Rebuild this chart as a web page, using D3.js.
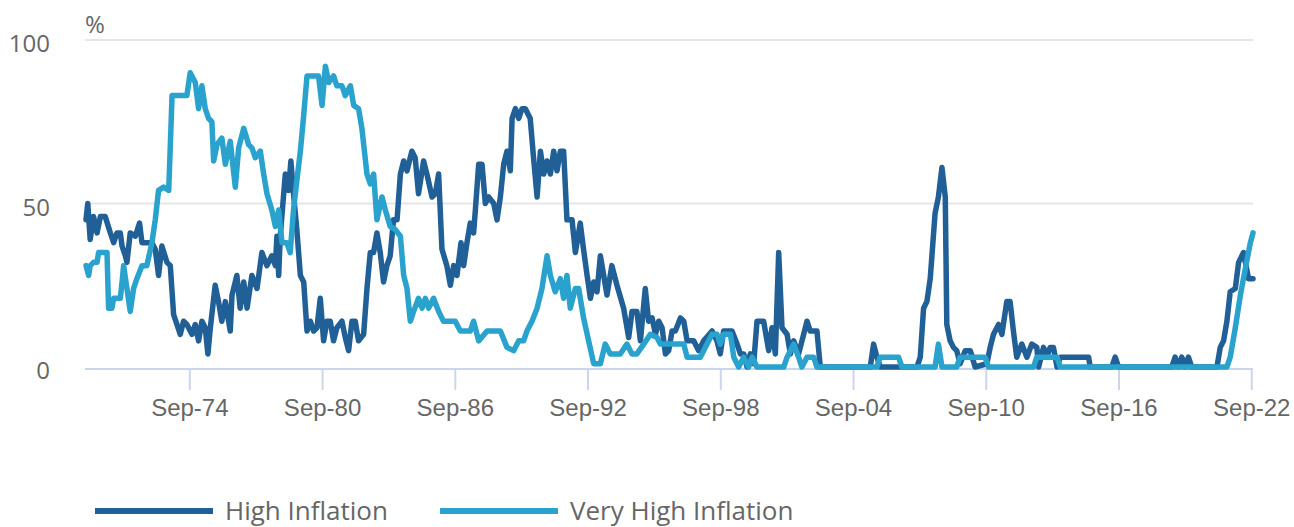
<!DOCTYPE html>
<html>
<head>
<meta charset="utf-8">
<script src="https://cdn.jsdelivr.net/npm/d3@7"></script>
<style>
    body { margin: 0; background: #fff; }
    svg { display: block; font-family: "Open Sans", sans-serif; }
    .tick-label { fill: #666; font-size: 24px; }
</style>
</head>
<body>
<div id="chart"></div>
<script>
// [decimal year, % of countries]
const highInflation = [
    [1970.00,45],[1970.08,50],[1970.19,39],[1970.34,46],[1970.50,41],[1970.65,46],[1970.87,46],[1971.10,41],
    [1971.25,38],[1971.40,41],[1971.55,41],[1971.63,37],[1971.78,34],[1971.85,32],[1972.00,41],[1972.23,40],
    [1972.42,44],[1972.53,38],[1972.98,38],[1973.13,36],[1973.28,28],[1973.43,37],[1973.66,32],[1973.81,31],
    [1973.96,16],[1974.11,13],[1974.26,10],[1974.41,14],[1974.56,13],[1974.79,10],[1974.94,13],[1975.09,8],
    [1975.24,14],[1975.39,12],[1975.51,4],[1975.62,12],[1975.84,25],[1975.99,20],[1976.14,14],[1976.30,20],
    [1976.52,11],[1976.60,22],[1976.82,28],[1976.97,18],[1977.13,26],[1977.28,18],[1977.50,28],[1977.73,24],
    [1977.95,35],[1978.18,31],[1978.40,34],[1978.56,31],[1978.63,40],[1978.71,28],[1978.78,40],[1979.01,59],
    [1979.16,54],[1979.26,63],[1979.38,53],[1979.53,42],[1979.69,28],[1979.84,26],[1979.99,11],[1980.14,14],
    [1980.29,11],[1980.44,12],[1980.59,21],[1980.74,8],[1980.89,14],[1981.04,14],[1981.19,8],[1981.34,12],
    [1981.57,14],[1981.72,9],[1981.87,5],[1982.02,14],[1982.17,14],[1982.32,8],[1982.55,10],[1982.70,24],
    [1982.85,35],[1983.00,35],[1983.15,41],[1983.30,35],[1983.45,26],[1983.60,31],[1983.75,34],[1983.90,45],
    [1984.06,45],[1984.21,59],[1984.36,63],[1984.51,60],[1984.73,66],[1984.88,64],[1985.03,53],[1985.26,63],
    [1985.41,59],[1985.64,52],[1985.79,53],[1985.94,59],[1986.09,36],[1986.31,31],[1986.47,25],[1986.62,31],
    [1986.77,28],[1986.95,38],[1987.07,31],[1987.22,38],[1987.37,44],[1987.52,41],[1987.60,48],[1987.75,62],
    [1987.90,62],[1988.05,50],[1988.20,52],[1988.43,50],[1988.58,45],[1988.73,52],[1988.88,62],[1989.03,66],
    [1989.18,60],[1989.26,76],[1989.41,79],[1989.56,76],[1989.71,79],[1989.86,79],[1990.08,76],[1990.23,64],
    [1990.39,52],[1990.54,66],[1990.69,59],[1990.84,63],[1990.99,59],[1991.14,66],[1991.29,60],[1991.44,66],
    [1991.59,66],[1991.74,45],[1991.97,45],[1992.12,35],[1992.34,44],[1992.49,36],[1992.65,28],[1992.80,21],
    [1992.95,26],[1993.10,23],[1993.25,34],[1993.55,22],[1993.77,31],[1994.00,25],[1994.30,18],[1994.53,9],
    [1994.68,17],[1994.90,17],[1995.06,8],[1995.28,24],[1995.43,14],[1995.59,15],[1995.74,10],[1995.89,14],
    [1996.04,12],[1996.19,4],[1996.34,5],[1996.49,11],[1996.64,11],[1996.87,15],[1997.02,14],[1997.17,8],
    [1997.47,8],[1997.69,5],[1997.92,8],[1998.30,11],[1998.52,8],[1998.67,4],[1998.82,11],[1999.20,11],
    [1999.43,7],[1999.58,4],[1999.73,4],[1999.88,0],[2000.03,4],[2000.18,1],[2000.33,14],[2000.63,14],
    [2000.86,5],[2001.01,12],[2001.16,4],[2001.31,35],[2001.46,12],[2001.69,10],[2001.84,4],[2001.99,8],
    [2002.21,4],[2002.44,10],[2002.59,14],[2002.74,11],[2003.04,11],[2003.19,0],[2005.45,0],[2005.60,7],
    [2005.75,3],[2005.90,0],[2007.56,0],[2007.71,3],[2007.86,18],[2008.01,20],[2008.16,27],[2008.38,47],
    [2008.53,52],[2008.69,61],[2008.84,52],[2008.91,13],[2009.06,8],[2009.21,6],[2009.36,5],[2009.51,1],
    [2009.74,5],[2009.97,5],[2010.19,0],[2010.72,1],[2010.87,6],[2011.02,10],[2011.25,13],[2011.40,10],
    [2011.62,20],[2011.77,20],[2011.92,11],[2012.07,3],[2012.30,7],[2012.53,3],[2012.75,7],[2012.98,6],
    [2013.06,0],[2013.28,6],[2013.43,3],[2013.58,6],[2013.73,6],[2013.89,0],[2014.04,3],[2015.32,3],
    [2015.39,0],[2016.37,0],[2016.52,3],[2016.67,0],[2019.08,0],[2019.23,3],[2019.38,0],[2019.53,3],
    [2019.68,0],[2019.83,3],[2019.98,0],[2021.12,0],[2021.27,6],[2021.42,8],[2021.57,14],[2021.72,23],
    [2021.95,24],[2022.10,32],[2022.32,35],[2022.55,27],[2022.75,27]
];

const veryHighInflation = [
    [1970.00,31],[1970.12,28],[1970.19,31],[1970.34,32],[1970.50,32],[1970.57,35],[1970.95,35],[1971.02,18],
    [1971.17,18],[1971.25,21],[1971.55,21],[1971.63,26],[1971.70,31],[1971.85,24],[1972.00,17],[1972.15,24],
    [1972.30,27],[1972.53,31],[1972.75,31],[1972.98,38],[1973.13,45],[1973.28,54],[1973.51,55],[1973.74,54],
    [1973.89,83],[1974.56,83],[1974.71,90],[1974.94,87],[1975.09,79],[1975.24,86],[1975.39,79],[1975.54,76],
    [1975.69,75],[1975.77,63],[1975.92,68],[1976.14,70],[1976.30,62],[1976.52,69],[1976.75,55],[1976.90,67],
    [1977.13,73],[1977.35,68],[1977.50,67],[1977.65,64],[1977.88,66],[1978.03,59],[1978.18,53],[1978.40,48],
    [1978.56,43],[1978.71,48],[1978.86,38],[1979.08,38],[1979.23,35],[1979.38,48],[1979.53,57],[1979.69,66],
    [1979.84,77],[1979.99,89],[1980.51,89],[1980.67,80],[1980.82,92],[1980.97,87],[1981.19,89],[1981.34,86],
    [1981.57,86],[1981.72,83],[1981.95,86],[1982.10,80],[1982.32,79],[1982.47,73],[1982.70,59],[1982.85,56],
    [1983.00,59],[1983.15,45],[1983.38,52],[1983.53,48],[1983.75,43],[1983.98,42],[1984.21,40],[1984.36,28],
    [1984.51,24],[1984.66,14],[1984.81,17],[1985.03,21],[1985.19,18],[1985.34,21],[1985.49,18],[1985.71,21],
    [1985.94,17],[1986.16,14],[1986.69,14],[1986.92,11],[1987.37,11],[1987.52,14],[1987.75,8],[1988.13,11],
    [1988.73,11],[1989.03,6],[1989.33,5],[1989.56,8],[1989.78,8],[1989.93,11],[1990.16,14],[1990.39,18],
    [1990.61,24],[1990.84,34],[1990.99,28],[1991.21,23],[1991.44,27],[1991.59,21],[1991.74,28],[1991.89,18],
    [1992.12,24],[1992.27,24],[1992.49,15],[1992.72,8],[1992.95,1],[1993.25,1],[1993.47,7],[1993.70,4],
    [1994.15,4],[1994.45,7],[1994.68,4],[1994.90,4],[1995.21,7],[1995.51,10],[1995.81,9],[1995.96,7],
    [1997.02,7],[1997.17,3],[1997.77,3],[1998.07,7],[1998.30,10],[1998.52,10],[1998.67,7],[1998.82,10],
    [1999.13,10],[1999.28,3],[1999.50,0],[1999.73,3],[1999.95,0],[2000.11,3],[2000.33,0],[2001.54,0],
    [2001.69,3],[2001.99,7],[2002.21,3],[2002.36,0],[2002.59,3],[2002.89,3],[2003.04,0],[2005.75,0],
    [2005.90,3],[2006.73,3],[2006.88,0],[2008.38,0],[2008.53,7],[2008.69,0],[2009.36,0],[2009.51,3],
    [2010.64,3],[2010.79,0],[2012.83,0],[2012.98,3],[2013.89,3],[2014.04,0],[2021.57,0],[2021.72,3],
    [2021.95,12],[2022.18,22],[2022.40,30],[2022.63,38],[2022.75,41]
];

const xTickValues = [1974.67, 1980.67, 1986.67, 1992.67, 1998.67, 2004.67, 2010.67, 2016.67, 2022.67];
const xTickLabels = ["Sep-74", "Sep-80", "Sep-86", "Sep-92", "Sep-98", "Sep-04", "Sep-10", "Sep-16", "Sep-22"];
const yTickValues = [0, 50, 100];

const seriesNames = ["High Inflation", "Very High Inflation"];
const seriesColors = ["#215f97", "#29a2cd"];

const width = 1294;
const height = 527;
const margin = {top: 40, right: 41, bottom: 160, left: 86};

const svg = d3.select("#chart")
    .append("svg")
    .attr("width", width)
    .attr("height", height);

const x = d3.scaleLinear()
    .domain([1970.0, 2022.75])
    .range([margin.left, width - margin.right]);

const y = d3.scaleLinear()
    .domain([0, 100])
    .range([367, margin.top]);

// Gridlines
svg.append("g")
    .selectAll("line")
    .data(yTickValues.filter(d => d > 0))
    .enter()
    .append("line")
    .attr("x1", margin.left - 1)
    .attr("x2", width - margin.right)
    .attr("y1", d => y(d))
    .attr("y2", d => y(d))
    .attr("stroke", "#e6e6e6")
    .attr("stroke-width", 2);

// Y labels
svg.append("g")
    .selectAll("text")
    .data(yTickValues)
    .enter()
    .append("text")
    .attr("class", "tick-label")
    .attr("x", 50)
    .attr("y", d => y(d) + 12)
    .attr("text-anchor", "end")
    .text(d => d);

svg.append("text")
    .attr("class", "tick-label")
    .attr("x", 85)
    .attr("y", 33)
    .text("%");

// X axis
const axisY = 369;
const xAxis = svg.append("g")
    .attr("transform", `translate(0,${axisY})`)
    .call(d3.axisBottom(x)
        .tickValues(xTickValues)
        .tickFormat((d, i) => xTickLabels[i])
        .tickSizeInner(21)
        .tickSizeOuter(0)
        .tickPadding(9));

xAxis.select(".domain")
    .attr("stroke", "#ccd6eb")
    .attr("stroke-width", 2)
    .attr("d", `M${margin.left - 1},0H${width - margin.right}`);
xAxis.selectAll(".tick line")
    .attr("stroke", "#ccd6eb")
    .attr("stroke-width", 2);
xAxis.selectAll(".tick text")
    .attr("class", "tick-label")
    .attr("fill", null)
    .attr("dy", "0.71em")
    .style("font-size", "24px");

// Lines
const line = d3.line()
    .x(d => x(d[0]))
    .y(d => y(d[1]));

[highInflation, veryHighInflation].forEach((series, i) => {
    svg.append("path")
        .datum(series)
        .attr("fill", "none")
        .attr("stroke", seriesColors[i])
        .attr("stroke-width", 5.5)
        .attr("stroke-linejoin", "round")
        .attr("stroke-linecap", "round")
        .attr("d", line);
});

// Legend
const legendX = [95, 440];
const legend = svg.append("g");
seriesNames.forEach((name, i) => {
    legend.append("line")
        .attr("x1", legendX[i])
        .attr("x2", legendX[i] + 118)
        .attr("y1", 511)
        .attr("y2", 511)
        .attr("stroke", seriesColors[i])
        .attr("stroke-width", 6);
    legend.append("text")
        .attr("x", legendX[i] + 130)
        .attr("y", 520)
        .attr("fill", "#666")
        .style("font-size", "26px")
        .text(name);
});
</script>
</body>
</html>
